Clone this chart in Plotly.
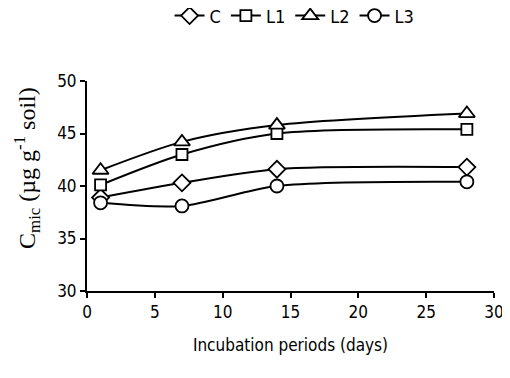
import plotly.graph_objects as go

days = [1, 7, 14, 28]
series_names = ["C", "L1", "L2", "L3"]
c_vals = [38.9, 40.3, 41.6, 41.8]
l1_vals = [40.1, 43.0, 45.0, 45.4]
l2_vals = [41.5, 44.2, 45.8, 46.9]
l3_vals = [38.4, 38.1, 40.0, 40.4]
x_ticks = [0, 5, 10, 15, 20, 25, 30]
y_ticks = [30, 35, 40, 45, 50]

symbols = ["diamond", "square", "triangle-up", "circle"]
values = [c_vals, l1_vals, l2_vals, l3_vals]
sizes = [13, 11, 14, 13]

SANS = "Liberation Sans Narrow, Arial Narrow, DejaVu Sans Condensed, Liberation Sans"

fig = go.Figure()
for name, vals, sym, sz in zip(series_names, values, symbols, sizes):
    fig.add_trace(go.Scatter(
        x=days, y=vals, name=name, mode="lines+markers",
        line=dict(color="black", width=2, shape="spline", smoothing=0.8),
        marker=dict(symbol=sym, size=sz, color="white",
                    line=dict(color="black", width=1.8)),
    ))

# page body has an 8px default margin, so the figure is 8px smaller
fig.update_layout(
    width=502, height=370,
    margin=dict(l=79, r=16, t=73, b=87, autoexpand=False),
    paper_bgcolor="white", plot_bgcolor="white",
    font=dict(family=SANS, size=17, color="black"),
    legend=dict(orientation="h", x=0.51, xanchor="center", y=1.31, yanchor="middle",
                font=dict(size=18), tracegroupgap=0, bgcolor="rgba(0,0,0,0)"),
    xaxis=dict(range=[0, 30], tickvals=x_ticks, showgrid=False, zeroline=False,
               showline=True, linecolor="black", linewidth=2,
               ticks="outside", ticklen=5, tickwidth=2, tickcolor="black",
               tickfont=dict(size=17),
               title=dict(text="Incubation periods (days)", font=dict(size=17), standoff=18)),
    yaxis=dict(range=[30, 50], tickvals=y_ticks, showgrid=False, zeroline=False,
               showline=True, linecolor="black", linewidth=2,
               ticks="outside", ticklen=5, tickwidth=2, tickcolor="black",
               tickfont=dict(size=17)),
    showlegend=True,
)

fig.add_annotation(
    text="C<sub>mic</sub> (µg g<sup>-1</sup> soil)",
    xref="paper", yref="paper", x=-0.148, y=0.585, xanchor="center", yanchor="middle",
    textangle=-90, showarrow=False,
    font=dict(family="Liberation Serif, Times New Roman", size=24, color="black"),
)

fig.write_html("out.html")
